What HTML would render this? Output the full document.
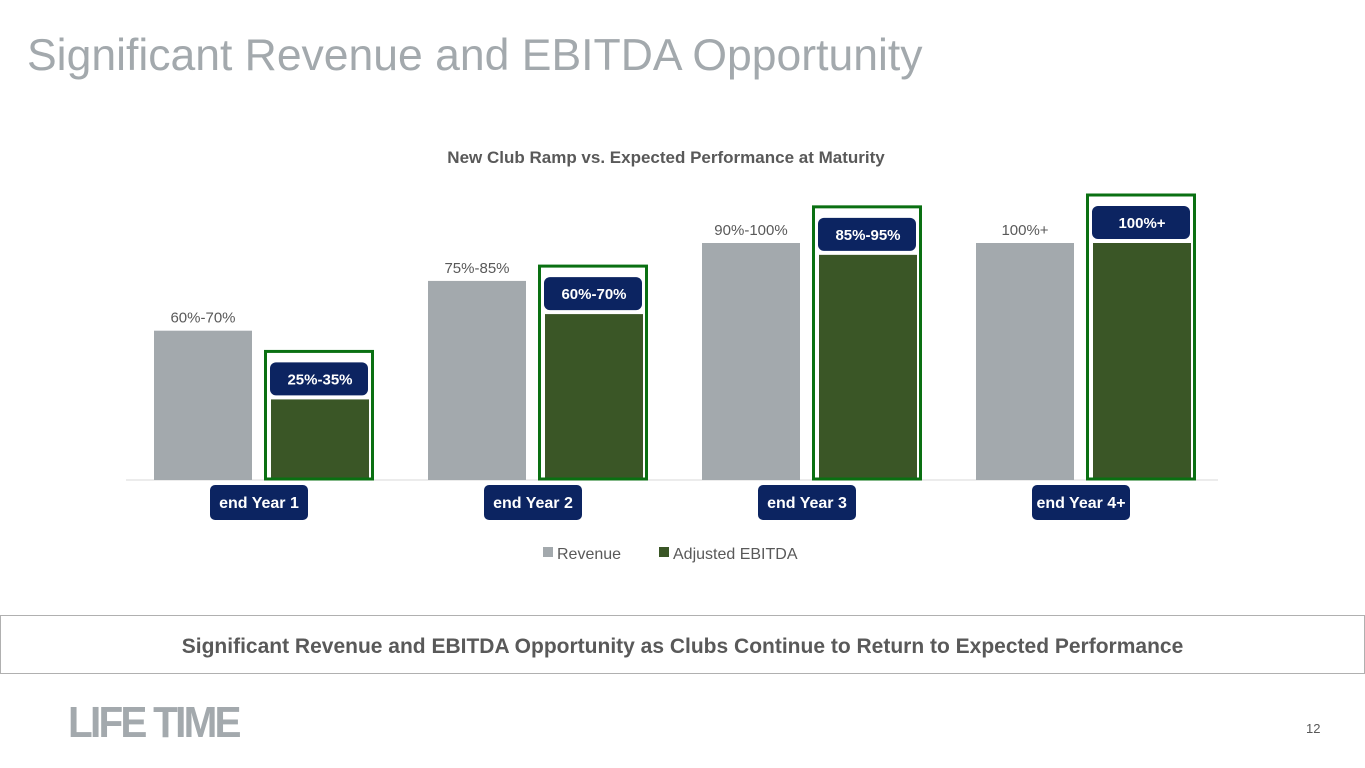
<!DOCTYPE html>
<html><head><meta charset="utf-8"><style>
body{margin:0;width:1365px;height:768px;background:#fff;overflow:hidden;font-family:"Liberation Sans",Arial,sans-serif;position:relative}
#title{position:absolute;left:27px;top:31px;font-size:44.5px;color:#a3a9ad;white-space:nowrap}
#foot{position:absolute;left:0;top:615px;width:1363px;height:57px;border:1px solid #b0b0b0;text-align:center;line-height:61px;font-size:21px;font-weight:bold;color:#595959}
#logo{position:absolute;left:68px;top:698px;font-size:44px;font-weight:900;color:#a3a9ad;letter-spacing:-3px;transform:scaleX(0.92);transform-origin:left;font-family:"Liberation Sans Narrow","Liberation Sans",sans-serif}
#pg{position:absolute;left:1306px;top:721px;font-size:13px;color:#595959}
</style></head><body>
<div id="title">Significant Revenue and EBITDA Opportunity</div>
<svg id="chart" width="1365" height="600" style="position:absolute;left:0;top:0"></svg>
<div id="foot">Significant Revenue and EBITDA Opportunity as Clubs Continue to Return to Expected Performance</div>
<div id="logo">LIFE TIME</div>
<div id="pg">12</div>
<script>
const categories=["end Year 1","end Year 2","end Year 3","end Year 4+"];
const revenue=[63,84,100,100];
const ebitda=[34,70,95,100];
const revLabels=["60%-70%","75%-85%","90%-100%","100%+"];
const ebLabels=["25%-35%","60%-70%","85%-95%","100%+"];
const NS="http://www.w3.org/2000/svg";
const svg=document.getElementById('chart');
const base=480,pxPer=2.37;
const y=v=>base-v*pxPer;
const gx=i=>154+i*274;
function mk(t,a,p){const e=document.createElementNS(NS,t);for(const k in a)e.setAttribute(k,a[k]);(p||svg).appendChild(e);return e;}
let t=mk('text',{x:666,y:163,'text-anchor':'middle','font-size':17,'font-weight':'bold',fill:'#595959'});t.textContent="New Club Ramp vs. Expected Performance at Maturity";


let ax=mk('line',{x1:126,x2:1218,y1:480,y2:480,stroke:'#d9d9d9','stroke-width':1});


categories.forEach((c,i)=>{
 const x=gx(i);
 let r=mk('rect',{x:x,y:y(revenue[i]),width:98,height:base-y(revenue[i]),fill:'#a3a9ad'});
 
 
 let rl=mk('text',{x:x+49,y:y(revenue[i])-8,'text-anchor':'middle','font-size':15,fill:'#595959'});rl.textContent=revLabels[i];
 
 
 const ex=x+117;
 let e=mk('rect',{x:ex,y:y(ebitda[i]),width:98,height:base-y(ebitda[i]),fill:'#3a5626'});
 
 
 const ly=y(ebitda[i])-37;
 let ob=mk('rect',{x:ex-5.5,y:ly-11,width:107,height:base-ly+10,fill:'none',stroke:'#0a7012','stroke-width':3});
 
 
 let lb=mk('rect',{x:ex-1,y:ly,width:98,height:33,rx:6,fill:'#0c2461'});
 
 
 let lt=mk('text',{x:ex+49,y:ly+22,'text-anchor':'middle','font-size':15,'font-weight':'bold',fill:'#fff'});lt.textContent=ebLabels[i];
 
 
 const cx=x+105;
 let cp=mk('rect',{x:cx-49,y:485,width:98,height:35,rx:5,fill:'#0c2461'});
 
 
 let ct=mk('text',{x:cx,y:508,'text-anchor':'middle','font-size':16,'font-weight':'bold',fill:'#fff'});ct.textContent=c;
 
 
});
let l1=mk('rect',{x:543,y:547,width:10,height:10,fill:'#a3a9ad'});


let l1t=mk('text',{x:557,y:559,'font-size':16,fill:'#595959'});l1t.textContent="Revenue";


let l2=mk('rect',{x:659,y:547,width:10,height:10,fill:'#3a5626'});


let l2t=mk('text',{x:673,y:559,'font-size':16,fill:'#595959'});l2t.textContent="Adjusted EBITDA";


</script>
</body></html>
